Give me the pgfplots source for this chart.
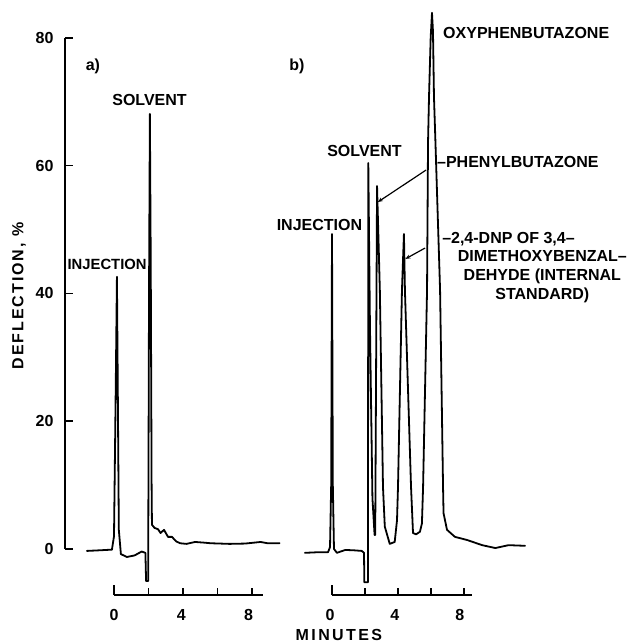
\documentclass[border=0pt]{standalone}
\usepackage{fontspec}
\setmainfont{Liberation Sans}
\usepackage{pgfplots}
\pgfplotsset{compat=1.18}
\usetikzlibrary{arrows.meta}
\begin{document}
\begin{tikzpicture}
\tikzset{lbl/.style={font=\bfseries\fontsize{16}{19}\selectfont, inner sep=0pt},
  trace/.style={black, line width=1.8pt, line join=round, line cap=round},
  ax/.style={black, line width=1.5pt}}
\path[use as bounding box] (0pt,0pt) rectangle (633pt,643pt);
% ---------------- panel a ----------------
\begin{axis}[at={(58.8pt,30.1pt)}, anchor=south west, scale only axis,
  width=227.7pt, height=607.05pt, xmin=-3.2, xmax=10, ymin=-10, ymax=85,
  hide axis, clip=false]
\addplot[trace, no marks] coordinates {
(-1.57,-0.3) (-0.8,-0.2) (-0.12,-0.1) (0.0,2) (0.1,25) (0.17,42.6) (0.22,25)
(0.28,3) (0.4,-0.8) (0.75,-1.25) (1.2,-1.0) (1.6,-0.4) (1.82,-0.6) (1.86,-5)
(1.98,-5) (2.03,40) (2.08,68.1) (2.13,45) (2.18,10) (2.2,3.8) (2.35,3.3)
(2.55,3.1) (2.7,2.5) (2.9,3.0) (3.13,1.9) (3.36,1.9) (3.6,1.2) (3.83,0.9)
(4.2,0.8) (4.7,1.1) (5.2,1.0) (5.6,0.9) (6.7,0.8) (7.6,0.85) (8.5,1.1)
(8.9,0.9) (9.6,0.9)};
% y axis
\draw[ax] (axis cs:-2.84,0) -- (axis cs:-2.84,80);
\draw[ax] (axis cs:-2.84,0) -- (axis cs:-2.38,0);
\draw[ax] (axis cs:-2.84,20) -- (axis cs:-2.38,20);
\draw[ax] (axis cs:-2.84,40) -- (axis cs:-2.38,40);
\draw[ax] (axis cs:-2.84,60) -- (axis cs:-2.38,60);
\draw[ax] (axis cs:-2.84,80) -- (axis cs:-2.38,80);
\node[lbl,anchor=east] at (axis cs:-3.5,0) {0};
\node[lbl,anchor=east] at (axis cs:-3.5,20) {20};
\node[lbl,anchor=east] at (axis cs:-3.5,40) {40};
\node[lbl,anchor=east] at (axis cs:-3.5,60) {60};
\node[lbl,anchor=east] at (axis cs:-3.5,80) {80};
\node[lbl,rotate=90] at (axis cs:-5.5,39.6) {\addfontfeature{LetterSpace=12}DEFLECTION, \%};
% x axis
\draw[ax] (axis cs:0,-7.2) -- (axis cs:8.64,-7.2);
\draw[ax] (axis cs:0,-7.2) -- (axis cs:0,-5.7);
\draw[ax] (axis cs:2,-7.2) -- (axis cs:2,-6.1);
\draw[ax] (axis cs:4,-7.2) -- (axis cs:4,-6.1);
\draw[ax] (axis cs:6,-7.2) -- (axis cs:6,-6.1);
\draw[ax] (axis cs:8,-7.2) -- (axis cs:8,-6.1);
\node[lbl] at (axis cs:0,-10.3) {0};
\node[lbl] at (axis cs:3.9,-10.3) {4};
\node[lbl] at (axis cs:7.8,-10.3) {8};
% labels
\node[lbl] at (axis cs:-1.22,75.6) {a)};
\node[lbl] at (axis cs:2.06,70.3) {SOLVENT};
\node[lbl,font=\bfseries\fontsize{14.8}{18}\selectfont] at (axis cs:-0.40,44.6) {INJECTION};
\end{axis}
% ---------------- panel b ----------------
\begin{axis}[at={(299pt,30.1pt)}, anchor=south west, scale only axis,
  width=231pt, height=607.05pt, xmin=-2, xmax=12, ymin=-10, ymax=85,
  hide axis, clip=false]
\addplot[trace, no marks] coordinates {
(-1.64,-0.6) (-0.8,-0.5) (-0.24,-0.5) (-0.12,0.3) (-0.05,10) (0.0,49.3)
(0.05,10) (0.12,0) (0.3,-0.6) (0.8,-0.15) (1.3,-0.2) (1.8,-0.3) (1.94,-0.6)
(1.96,-5.2) (2.18,-5.2) (2.2,60.4) (2.3,35) (2.45,8) (2.58,2.2) (2.62,2.2)
(2.73,56.8) (2.9,40.5) (3.09,9.7) (3.2,3.5) (3.5,0.8) (3.8,1.1) (3.94,4.5)
(4.0,9.7) (4.24,40.5) (4.36,49.3) (4.42,40.5) (4.79,9.7) (4.91,2.5) (5.1,2.3)
(5.33,2.7) (5.45,4) (5.52,9.7) (5.76,40.5) (5.82,63.6) (5.88,70.8) (5.98,80)
(6.06,83.9) (6.12,81) (6.18,70.8) (6.27,63.6) (6.55,40.5) (6.73,9.7)
(6.76,5.6) (6.97,3.0) (7.45,1.9) (8.2,1.4) (9.1,0.6) (9.9,0.15) (10.7,0.6)
(11.7,0.5)};
% x axis
\draw[ax] (axis cs:0,-7.2) -- (axis cs:8.5,-7.2);
\draw[ax] (axis cs:0,-7.2) -- (axis cs:0,-5.7);
\draw[ax] (axis cs:2,-7.2) -- (axis cs:2,-6.1);
\draw[ax] (axis cs:4,-7.2) -- (axis cs:4,-6.1);
\draw[ax] (axis cs:6,-7.2) -- (axis cs:6,-6.1);
\draw[ax] (axis cs:8,-7.2) -- (axis cs:8,-6.1);
\node[lbl] at (axis cs:-0.12,-10.3) {0};
\node[lbl] at (axis cs:3.8,-10.3) {4};
\node[lbl] at (axis cs:7.75,-10.3) {8};
\node[lbl] at (axis cs:0.42,-13.5) {\addfontfeature{LetterSpace=15}MINUTES};
% labels
\node[lbl] at (axis cs:-2.12,75.6) {b)};
\node[lbl] at (axis cs:-0.76,50.7) {INJECTION};
\node[lbl] at (axis cs:1.97,62.3) {SOLVENT};
\node[lbl,anchor=west] at (axis cs:6.73,80.8) {OXYPHENBUTAZONE};
\node[lbl,anchor=west] at (axis cs:6.36,60.6) {--PHENYLBUTAZONE};
\node[lbl,anchor=west] at (axis cs:6.67,48.5) {--2,4-DNP OF 3,4--};
\node[lbl,align=center,anchor=north] at (axis cs:12.75,46.7)
  {DIMETHOXYBENZAL--\\DEHYDE (INTERNAL\\STANDARD)};
\draw[black,line width=1.2pt,-{Stealth[length=5pt,width=4pt]}] (axis cs:5.70,59.3) -- (axis cs:2.78,54.3);
\draw[black,line width=1.2pt,-{Stealth[length=5pt,width=4pt]}] (axis cs:5.64,47.1) -- (axis cs:4.45,45.4);
\end{axis}
\end{tikzpicture}
\end{document}
